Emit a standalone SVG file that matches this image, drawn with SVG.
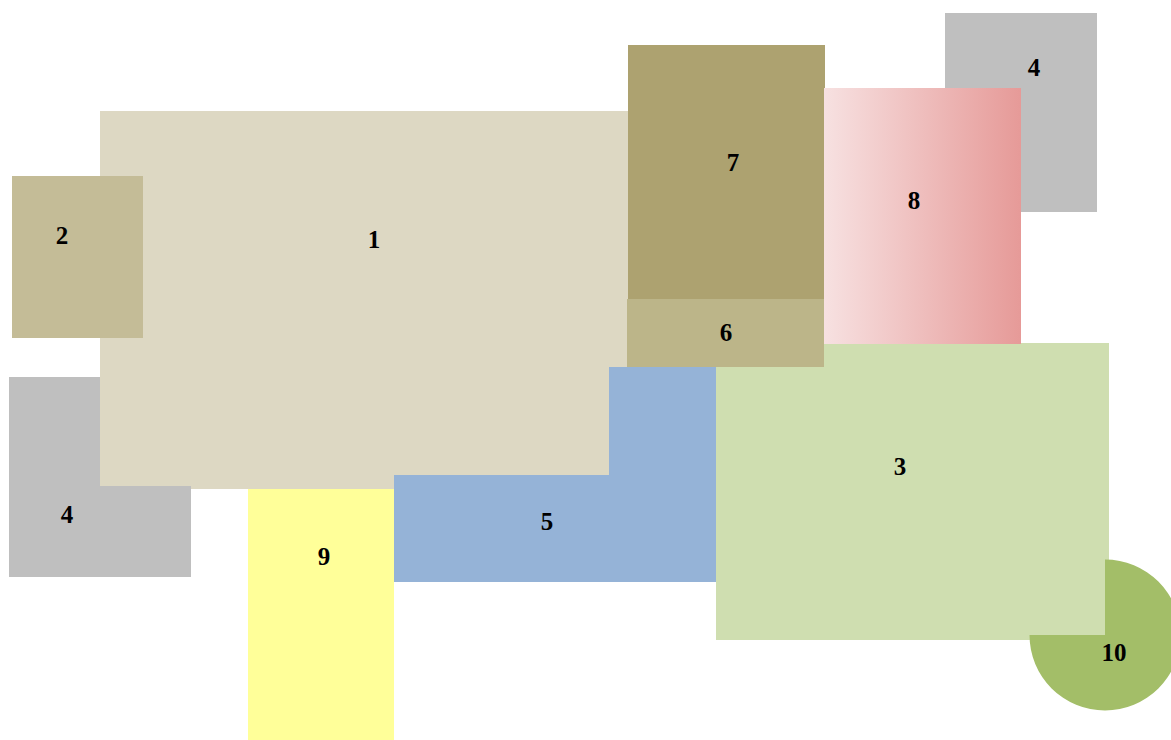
<svg xmlns="http://www.w3.org/2000/svg" width="1171" height="740" viewBox="0 0 1171 740">
<style>
text{font-family:"Liberation Serif","Times New Roman",serif;font-weight:bold;font-size:25px;fill:#000;text-anchor:middle}
</style>
<defs>
<linearGradient id="g8" x1="0" y1="0" x2="1" y2="0">
<stop offset="0" stop-color="#F7E1E1"/>
<stop offset="1" stop-color="#E69A98"/>
</linearGradient>
</defs>
<rect width="1171" height="740" fill="#fff"/>
<g id="node1"><rect x="100" y="111" width="528" height="378" fill="#DDD8C3"/><text x="374" y="248">1</text></g>
<g id="node2"><rect x="12" y="176" width="131" height="162" fill="#C4BC97"/><text x="62" y="244">2</text></g>
<g id="node4a"><polygon points="9,377 100,377 100,486 191,486 191,577 9,577" fill="#BFBFBF"/><text x="67" y="523">4</text></g>
<g id="node9"><rect x="248" y="489" width="146" height="251" fill="#FFFF99"/><text x="324" y="565">9</text></g>
<g id="node5"><polygon points="609,367 717,367 717,582 394,582 394,475 609,475" fill="#95B3D7"/><text x="547" y="530">5</text></g>
<g id="node3"><rect x="716" y="343" width="393" height="297" fill="#CFDEB0"/><text x="900" y="475">3</text></g>
<g id="node7"><rect x="628" y="45" width="197" height="254" fill="#ADA270"/><text x="733" y="171">7</text></g>
<g id="node6"><rect x="627" y="299" width="197" height="68" fill="#BCB589"/><text x="726" y="341">6</text></g>
<g id="node4b"><rect x="945" y="13" width="152" height="199" fill="#BFBFBF"/><text x="1034" y="76">4</text></g>
<g id="node8"><rect x="824" y="88" width="197" height="256" fill="url(#g8)"/><text x="914" y="209">8</text></g>
<g id="node10"><path d="M1105,635 L1105,559.5 A75.5,75.5 0 1 1 1029.5,635 Z" fill="#A3BE68"/><text x="1114" y="661">10</text></g>
<g id="connectors"></g>
</svg>
